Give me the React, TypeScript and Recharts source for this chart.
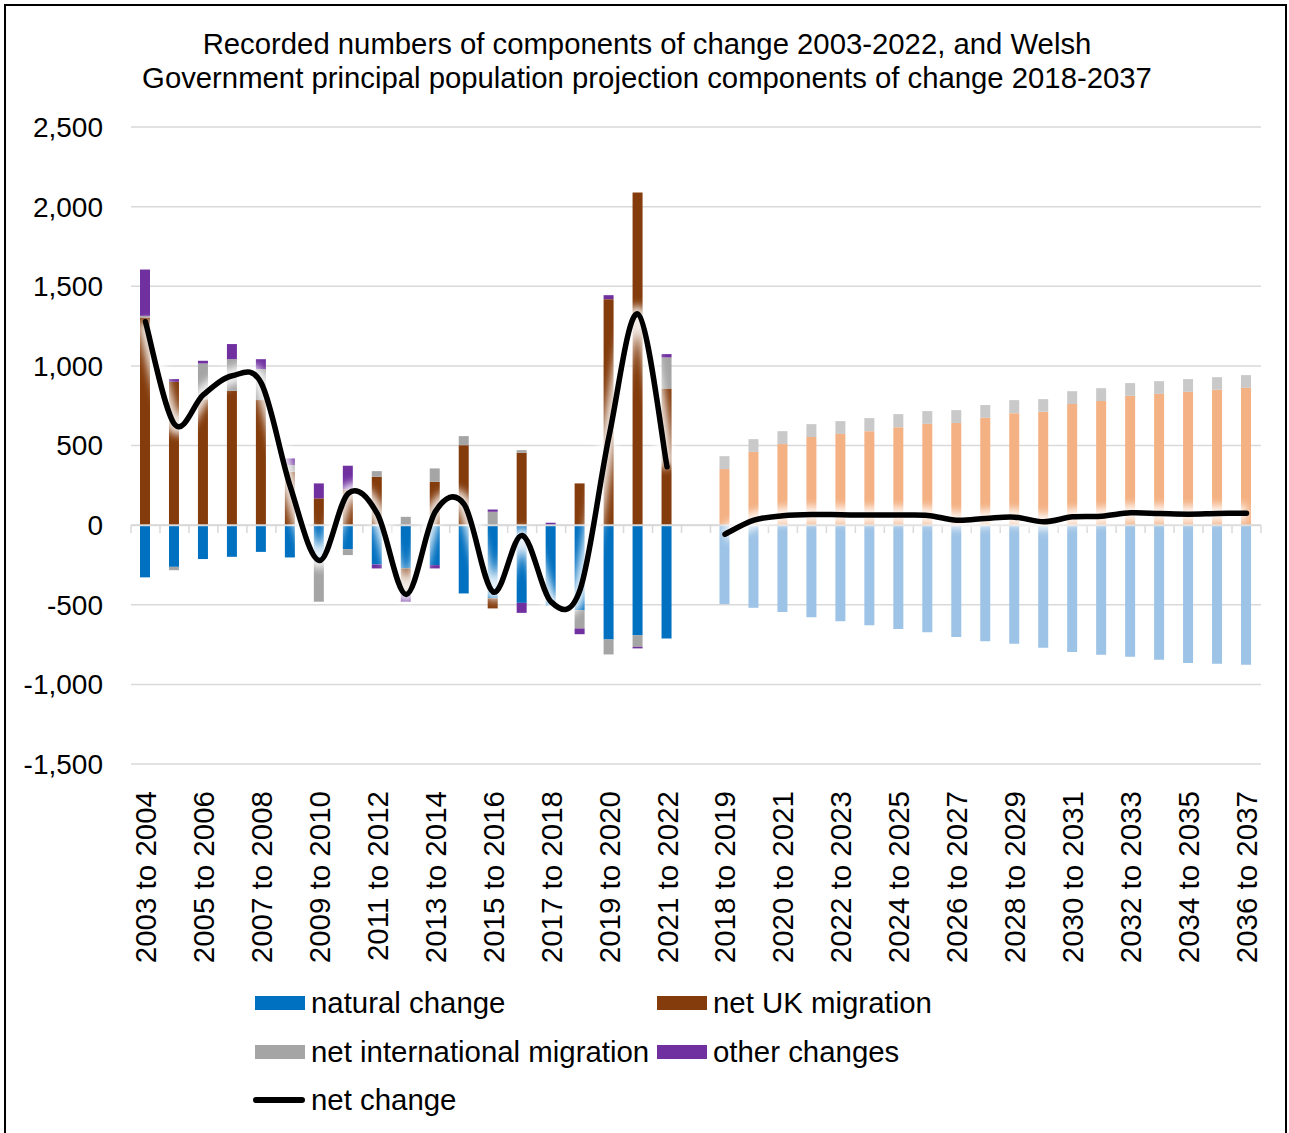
import React from 'react';
import { ComposedChart, Bar, Line, XAxis, YAxis, CartesianGrid, ReferenceLine, Cell } from 'recharts';

const recordedPeriods = [
  '2003 to 2004', '2004 to 2005', '2005 to 2006', '2006 to 2007', '2007 to 2008',
  '2008 to 2009', '2009 to 2010', '2010 to 2011', '2011 to 2012', '2012 to 2013',
  '2013 to 2014', '2014 to 2015', '2015 to 2016', '2016 to 2017', '2017 to 2018',
  '2018 to 2019', '2019 to 2020', '2020 to 2021', '2021 to 2022',
];
const projectedPeriods = [
  '2018 to 2019', '2019 to 2020', '2020 to 2021', '2021 to 2022', '2022 to 2023',
  '2023 to 2024', '2024 to 2025', '2025 to 2026', '2026 to 2027', '2027 to 2028',
  '2028 to 2029', '2029 to 2030', '2030 to 2031', '2031 to 2032', '2032 to 2033',
  '2033 to 2034', '2034 to 2035', '2035 to 2036', '2036 to 2037',
];

const naturalRecorded = [-328, -262, -213, -199, -168, -203, -230, -151, -247, -272, -251, -429, -460, -488, -505, -534, -718, -691, -712];
const ukRecorded = [1304, 900, 791, 843, 785, 335, 168, 224, 304, -157, 272, 502, -63, 454, 0, 262, 1419, 2089, 858];
const intlRecorded = [10, -21, 224, 199, 195, 42, -251, -37, 35, 52, 84, 57, 84, 17, 0, -115, -94, -73, 195];
const otherRecorded = [291, 17, 17, 95, 62, 42, 94, 149, -25, -52, -21, 0, 14, -63, 15, -36, 25, -10, 21];
const netRecorded = [1277, 634, 819, 938, 890, 240, -222, 200, 72, -435, 84, 130, -420, -65, -482, -405, 560, 1325, 366];

const naturalProjected = [-496, -519, -546, -578, -603, -628, -653, -672, -703, -729, -745, -770, -796, -814, -827, -846, -865, -871, -877];
const ukProjected = [352, 460, 509, 553, 573, 590, 615, 636, 641, 674, 703, 712, 760, 779, 812, 824, 837, 850, 862];
const intlProjected = [81, 80, 81, 81, 80, 82, 82, 80, 81, 80, 82, 79, 81, 81, 80, 80, 80, 79, 80];
const netProjected = [-57, 31, 59, 67, 65, 63, 63, 61, 31, 42, 50, 21, 52, 56, 77, 73, 69, 73, 75];

const yTicks = [-1500, -1000, -500, 0, 500, 1000, 1500, 2000, 2500];

const COLORS = {
  natural: '#0070C0', uk: '#843C0C', intl: '#A5A5A5', other: '#7030A0',
  naturalP: '#9DC3E6', ukP: '#F4B183', intlP: '#C9C9C9',
};

const FONT = '"Liberation Sans", Arial, sans-serif';

type Row = {
  key: string; idx: number; label: string; proj: boolean;
  natural: number | null; uk: number | null; intl: number | null; other: number | null;
  netRec: number | null; netProj: number | null;
};

const data: Row[] = [
  ...recordedPeriods.map((p, i) => ({
    key: `r${i}`, idx: i, label: p, proj: false,
    natural: naturalRecorded[i], uk: ukRecorded[i], intl: intlRecorded[i], other: otherRecorded[i],
    netRec: netRecorded[i], netProj: null,
  })),
  // empty separator category between recorded and projected series
  {
    key: 'gap', idx: recordedPeriods.length, label: '', proj: false,
    natural: null, uk: null, intl: null, other: null, netRec: null, netProj: null,
  },
  ...projectedPeriods.map((p, j) => ({
    key: `p${j}`, idx: recordedPeriods.length + 1 + j, label: p, proj: true,
    natural: naturalProjected[j], uk: ukProjected[j], intl: intlProjected[j], other: 0,
    netRec: null, netProj: netProjected[j],
  })),
];

const labelByKey: Record<string, string> = {};
data.forEach((d) => { labelByKey[d.key] = d.label; });

const boundaries = Array.from({ length: data.length + 1 }, (_, i) => i - 0.5);

// Excel-like smoothed line (uniform Catmull-Rom as cubic Bezier)
function smoothCurve(context: any) {
  let pts: number[][] = [];
  return {
    areaStart() {},
    areaEnd() {},
    lineStart() { pts = []; },
    lineEnd() {
      const n = pts.length;
      if (n === 0) return;
      context.moveTo(pts[0][0], pts[0][1]);
      if (n === 1) { context.lineTo(pts[0][0], pts[0][1]); return; }
      for (let i = 0; i < n - 1; i++) {
        const p0 = pts[i - 1] || pts[i];
        const p1 = pts[i];
        const p2 = pts[i + 1];
        const p3 = pts[i + 2] || p2;
        const c1x = p1[0] + (p2[0] - p0[0]) / 6;
        const c1y = p1[1] + (p2[1] - p0[1]) / 6;
        const c2x = p2[0] - (p3[0] - p1[0]) / 6;
        const c2y = p2[1] - (p3[1] - p1[1]) / 6;
        context.bezierCurveTo(c1x, c1y, c2x, c2y, p2[0], p2[1]);
      }
    },
    point(x: number, y: number) { pts.push([+x, +y]); },
  };
}

const XTick = (props: any) => {
  const { x, y, payload } = props;
  const label = labelByKey[payload.value];
  if (!label) return null;
  const ty = y + 27;
  return (
    <text x={x} y={ty} transform={`rotate(-90 ${x} ${ty})`} textAnchor="end" dominantBaseline="central"
      fontSize={29.5} fontFamily={FONT} fill="#000">
      {label}
    </text>
  );
};

const legendItems = [
  { name: 'natural change', color: COLORS.natural, x: 255, y: 1003, type: 'rect' },
  { name: 'net UK migration', color: COLORS.uk, x: 657, y: 1003, type: 'rect' },
  { name: 'net international migration', color: COLORS.intl, x: 255, y: 1052, type: 'rect' },
  { name: 'other changes', color: COLORS.other, x: 657, y: 1052, type: 'rect' },
  { name: 'net change', color: '#000', x: 255, y: 1100, type: 'line' },
];

export default function App() {
  return (
    <div style={{ position: 'absolute', left: 0, top: 0, width: 1289, height: 1133, background: '#fff', fontFamily: FONT, overflow: 'hidden' }}>
      <style>{`.glow .recharts-line-curve { filter: blur(4px); }`}</style>
      <div style={{ position: 'absolute', left: 4, top: 4, width: 1283, height: 1129, borderTop: '2px solid #000', borderLeft: '2px solid #000', borderRight: '2px solid #000', boxSizing: 'border-box' }} />
      <div style={{ position: 'absolute', left: 0, top: 27, width: 1294, textAlign: 'center', fontSize: 29.3, lineHeight: '34px', color: '#000' }}>
        <div>Recorded numbers of components of change 2003-2022, and Welsh</div>
        <div>Government principal population projection components of change 2018-2037</div>
      </div>
      <div style={{ position: 'absolute', left: 0, top: 0 }}>
        <ComposedChart width={1289} height={1133} data={data} stackOffset="sign" barSize={10}
          margin={{ top: 127, right: 28, bottom: 169, left: 1 }}>
          <CartesianGrid vertical={false} stroke="#D9D9D9" strokeWidth={1.5} />
          <XAxis dataKey="key" interval={1} tick={<XTick />} tickLine={false} axisLine={false}
            height={200} tickSize={0} tickMargin={0} />
          <XAxis xAxisId="num" type="number" dataKey="idx" domain={[-0.5, data.length - 0.5]} hide />
          <YAxis domain={[-1500, 2500]} ticks={yTicks} width={130} axisLine={false} tickLine={false}
            tickSize={0} tickMargin={28} interval={0}
            tick={{ fontSize: 28, fontFamily: FONT, fill: '#000' }}
            tickFormatter={(v: number) => v.toLocaleString('en-US')} />
          <Bar dataKey="natural" stackId="a" isAnimationActive={false}>
            {data.map((d) => <Cell key={d.key} fill={d.proj ? COLORS.naturalP : COLORS.natural} />)}
          </Bar>
          <Bar dataKey="uk" stackId="a" isAnimationActive={false}>
            {data.map((d) => <Cell key={d.key} fill={d.proj ? COLORS.ukP : COLORS.uk} />)}
          </Bar>
          <Bar dataKey="intl" stackId="a" isAnimationActive={false}>
            {data.map((d) => <Cell key={d.key} fill={d.proj ? COLORS.intlP : COLORS.intl} />)}
          </Bar>
          <Bar dataKey="other" stackId="a" isAnimationActive={false}>
            {data.map((d) => <Cell key={d.key} fill={COLORS.other} />)}
          </Bar>
          <ReferenceLine y={0} stroke="#D9D9D9" strokeWidth={2} />
          {boundaries.map((b) => (
            <ReferenceLine key={b} xAxisId="num" segment={[{ x: b, y: 0 }, { x: b, y: -50 }]} stroke="#D9D9D9" strokeWidth={1.5} />
          ))}
          <Line dataKey="netRec" type={smoothCurve as any} stroke="#fff" strokeOpacity={0.9} strokeWidth={16} dot={false}
            activeDot={false} className="glow" isAnimationActive={false} />
          <Line dataKey="netProj" type={smoothCurve as any} stroke="#fff" strokeOpacity={0.9} strokeWidth={16} dot={false}
            activeDot={false} className="glow" isAnimationActive={false} />
          <Line dataKey="netRec" type={smoothCurve as any} stroke="#000" strokeWidth={5.5} dot={false}
            activeDot={false} strokeLinecap="round" isAnimationActive={false} />
          <Line dataKey="netProj" type={smoothCurve as any} stroke="#000" strokeWidth={5.5} dot={false}
            activeDot={false} strokeLinecap="round" isAnimationActive={false} />
        </ComposedChart>
      </div>
      {legendItems.map((it) => (
        <div key={it.name} style={{ position: 'absolute', left: it.x - 2, top: it.y - 17, height: 34, display: 'flex', alignItems: 'center' }}>
          {it.type === 'rect' ? (
            <div style={{ width: 50, height: 14, background: it.color, marginLeft: 2 }} />
          ) : (
            <div style={{ width: 52, height: 6, borderRadius: 3, background: it.color }} />
          )}
          <span style={{ marginLeft: 6, fontSize: 29.4, color: '#000', whiteSpace: 'nowrap' }}>{it.name}</span>
        </div>
      ))}
    </div>
  );
}
